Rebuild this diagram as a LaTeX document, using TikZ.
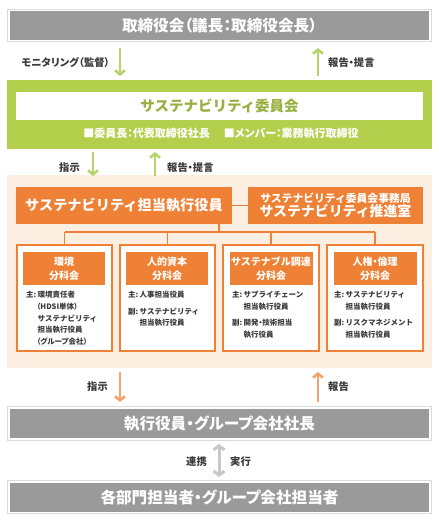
\documentclass[tikz,border=0pt]{standalone}
\usepackage{fontspec}
\setmainfont{Noto Sans CJK JP}
\newfontfamily\jpp[RawFeature=+palt]{Noto Sans CJK JP}
\usetikzlibrary{arrows.meta}
\definecolor{gfill}{HTML}{9A9A9A}
\definecolor{gline}{HTML}{DADADA}
\definecolor{lime}{HTML}{B3CF4C}
\definecolor{limearrow}{HTML}{B7D46C}
\definecolor{orng}{HTML}{EE8135}
\definecolor{orngbg}{HTML}{FDEEE2}
\definecolor{orngarrow}{HTML}{F4A46C}
\definecolor{grayarrow}{HTML}{C8C8C8}
\definecolor{txt}{HTML}{3A3A3A}
\begin{document}
\begin{tikzpicture}[x=1pt,y=-1pt,
  graybox/.style={fill=gfill, text=white, font=\jpp\bfseries\fontsize{15.6}{17}\selectfont, minimum width=419pt, minimum height=29pt, inner sep=0pt},
  frame/.style={draw=gline, line width=1.2pt},
  lbl/.style={text=txt, font=\jpp\bfseries\fontsize{10.3}{11}\selectfont, inner sep=0pt},
  obox/.style={fill=orng, text=white, inner sep=0pt},
  subbox/.style={draw=orng, line width=1.5pt, fill=white, minimum width=95pt, minimum height=106pt, inner sep=0pt},
  subtitle/.style={fill=orng, text=white, minimum width=82pt, minimum height=33pt, align=center, font=\bfseries\fontsize{10}{14}\selectfont, inner sep=0pt},
  body/.style={font=\bfseries\fontsize{7.5}{9}\selectfont, text=txt, anchor=base west, inner sep=0pt},
  tree/.style={draw=orng, line width=1.5pt},
  garrow/.style={draw=limearrow, line width=2.6pt, -{Straight Barb[length=4pt,width=10pt]}},
  oarrow/.style={draw=orngarrow, line width=2.6pt, -{Straight Barb[length=4pt,width=10pt]}},
  darrow/.style={draw=grayarrow, line width=3pt, {Straight Barb[length=4pt,width=11pt]}-{Straight Barb[length=4pt,width=11pt]}}
]
\useasboundingbox (0,0) rectangle (439,522);

% top board
\draw[frame] (7.5,9.5) rectangle (431.5,41.5);
\node[graybox] (board) at (219.5,25.5) {取締役会（議長：取締役会長）};

% sustainability committee
\node[fill=lime, minimum width=425pt, minimum height=69pt, inner sep=0pt] (comm) at (219.5,114.5) {};
\node[fill=white, minimum width=407pt, minimum height=28pt, inner sep=0pt, text=lime!85!black, font=\bfseries\fontsize{14.5}{16}\selectfont] (commtitle) at (219.5,106) {サステナビリティ委員会};
\node[text=white, font=\jpp\bfseries\fontsize{11}{12}\selectfont, inner sep=0pt] (members) at (221,133) {■委員長：代表取締役社長\hspace{14pt}■メンバー：業務執行取締役};

% arrows board <-> committee
\coordinate (a1s) at (120,48); \coordinate (a1e) at (120,76);
\coordinate (a2s) at (318,76); \coordinate (a2e) at (318,48);
\draw[garrow] (a1s) -- (a1e);
\draw[garrow] (a2s) -- (a2e);
\node[lbl, anchor=base east] (mon) at (110,66) {モニタリング（監督）};
\node[lbl, anchor=base west] (rep1) at (328,66) {報告・提言};

% orange background
\node[fill=orngbg, minimum width=425pt, minimum height=193pt, inner sep=0pt] (obg) at (219.5,271.5) {};

% arrows committee <-> exec
\coordinate (b1s) at (93,152); \coordinate (b1e) at (93,176);
\coordinate (b2s) at (155,176); \coordinate (b2e) at (155,152);
\draw[garrow] (b1s) -- (b1e);
\draw[garrow] (b2s) -- (b2e);
\node[lbl, anchor=base east] (inst1) at (80,171) {指示};
\node[lbl, anchor=base west] (rep2) at (167,171) {報告・提言};

% executive officer and office
\node[obox, minimum width=216pt, minimum height=37pt, font=\bfseries\fontsize{14.2}{16}\selectfont] (exec) at (124,205.5) {サステナビリティ担当執行役員};
\node[obox, minimum width=175pt, minimum height=37pt, align=center] (office) at (335.5,205.5)
  {{\bfseries\fontsize{10.8}{13}\selectfont サステナビリティ委員会事務局}\\[-1pt]{\bfseries\fontsize{13.9}{16}\selectfont サステナビリティ推進室}};
\draw[tree] (exec.east) -- (office.west);

% subcommittee boxes
\node[subbox] (s1) at (64.5,298) {};
\node[subbox] (s2) at (167.5,298) {};
\node[subbox, minimum width=96pt] (s3) at (271,298) {};
\node[subbox, minimum width=96pt] (s4) at (375,298) {};

% tree
\coordinate (tj) at (219,232);
\draw[tree] (exec.south -| tj) -- (tj);
\draw[tree] (s1.north |- tj) -- (s4.north |- tj);
\draw[tree] (s1.north |- tj) -- (s1.north);
\draw[tree] (s2.north |- tj) -- (s2.north);
\draw[tree] (s3.north |- tj) -- (s3.north);
\draw[tree] (s4.north |- tj) -- (s4.north);

% subcommittee titles
\node[subtitle] (t1) at (64,268.5) {環境\\分科会};
\node[subtitle] (t2) at (167,268.5) {人的資本\\分科会};
\node[subtitle, minimum width=83pt] (t3) at (271,268.5) {サステナブル調達\\分科会};
\node[subtitle, minimum width=83pt] (t4) at (375,268.5) {{\jpp 人権・倫理}\\分科会};

% body texts box 1
\node[body] (b1a) at (26,297) {主:};
\node[body] (b1b) at (37.5,297) {環境責任者};
\node[body] (b1c) at (36.5,309) {\jpp（HDSI単体）};
\node[body] (b1d) at (37.5,321) {サステナビリティ};
\node[body] (b1e) at (37.5,332.5) {担当執行役員};
\node[body] (b1f) at (36.5,344) {\jpp（グループ会社）};
% box 2
\node[body] (b2a) at (128,297) {主:};
\node[body] (b2b) at (139.5,297) {人事担当役員};
\node[body] (b2c) at (128,314) {副:};
\node[body] (b2d) at (139.5,314) {サステナビリティ};
\node[body] (b2e) at (139.5,325.5) {担当執行役員};
% box 3
\node[body] (b3a) at (232,297) {主:};
\node[body] (b3b) at (243.5,297) {サプライチェーン};
\node[body] (b3c) at (243.5,309.5) {担当執行役員};
\node[body] (b3d) at (232,325) {副:};
\node[body] (b3e) at (243.5,325) {\jpp 開発・技術担当};
\node[body] (b3f) at (243.5,337) {執行役員};
% box 4
\node[body] (b4a) at (334,297) {主:};
\node[body] (b4b) at (345.5,297) {サステナビリティ};
\node[body] (b4c) at (345.5,309.5) {担当執行役員};
\node[body] (b4d) at (334,325) {副:};
\node[body] (b4e) at (345.5,325) {リスクマネジメント};
\node[body] (b4f) at (345.5,337) {担当執行役員};

% arrows exec area <-> officers
\coordinate (c1s) at (120,372); \coordinate (c1e) at (120,402);
\coordinate (c2s) at (318,402); \coordinate (c2e) at (318,372);
\draw[oarrow] (c1s) -- (c1e);
\draw[oarrow] (c2s) -- (c2e);
\node[lbl, anchor=base east] (inst2) at (108,390) {指示};
\node[lbl, anchor=base west] (rep3) at (328,390) {報告};

% officers box
\draw[frame] (7.5,406.5) rectangle (431.5,440.5);
\node[graybox] (officers) at (219.5,423.5) {執行役員・グループ会社社長};

% double arrow
\coordinate (d1) at (219,444); \coordinate (d2) at (219,477);
\draw[darrow] (d1) -- (d2);
\node[lbl, anchor=base east] (coop) at (207,465) {連携};
\node[lbl, anchor=base west] (exe) at (230,465) {実行};

% staff box
\draw[frame] (7.5,480.5) rectangle (431.5,513.5);
\node[graybox] (staff) at (219.5,497) {各部門担当者・グループ会社担当者};
\end{tikzpicture}
\end{document}
